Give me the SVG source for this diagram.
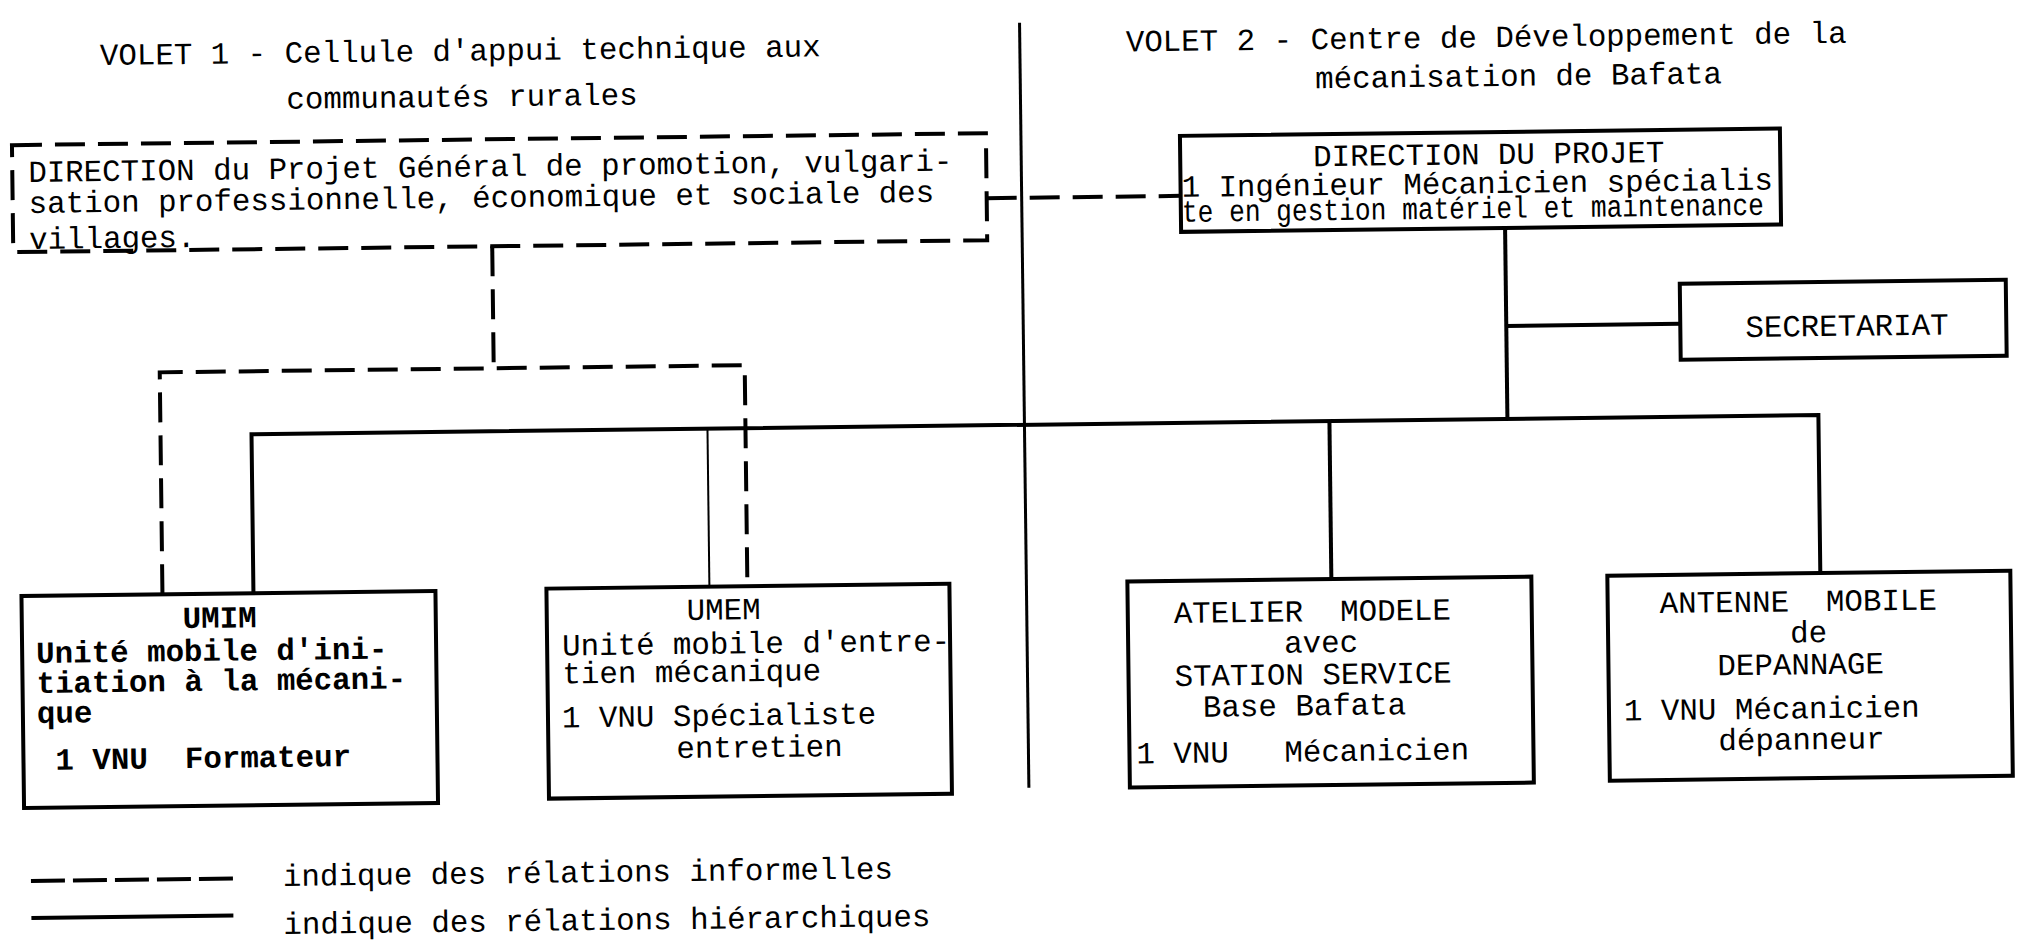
<svg xmlns="http://www.w3.org/2000/svg" width="2017" height="940" viewBox="0 0 2017 940">
<style>
.t{font-family:"Liberation Mono","DejaVu Sans Mono",monospace;font-size:30.8px;fill:#000;white-space:pre}
.b{font-weight:bold}
.box{fill:none;stroke:#000;stroke-width:4}
.ln{fill:none;stroke:#000;stroke-width:4}
.thin{fill:none;stroke:#000;stroke-width:2}
.dash{fill:none;stroke:#000;stroke-width:4;stroke-dasharray:30 13}
</style>
<rect x="0" y="0" width="2017" height="940" fill="#fff"/>
<g transform="rotate(-0.7 1008 470)">
  <g id="divider">
    <path class="ln" style="stroke-width:3" d="M1025 23 V788"/>
  </g>
  <g id="connectors">
    <path class="ln" d="M252 584 V425 H1819 V583"/>
    <path class="ln" d="M1330 425 V583"/>
    <path class="thin" d="M708 425 V583"/>
    <path class="ln" d="M1508 234 V425"/>
    <path class="ln" d="M1508 332 H1682"/>
    <path class="dash" d="M990 198 H1184"/>
    <path class="dash" d="M495 240 V362"/>
    <path class="dash" d="M161 584 V362 H746 V584"/>
  </g>
  <g id="volet1-title">
    <text class="t" x="105" y="54">VOLET 1 - Cellule d'appui technique aux</text>
    <text class="t" x="291" y="100">communautés rurales</text>
  </g>
  <g id="volet2-title">
    <text class="t" x="1131" y="53">VOLET 2 - Centre de Développement de la</text>
    <text class="t" x="1320" y="92">mécanisation de Bafata</text>
  </g>
  <g id="direction-generale">
    <rect class="dash" x="16" y="133" width="974" height="107"/>
    <text class="t" x="32" y="170">DIRECTION du Projet Général de promotion, vulgari-</text>
    <text class="t" x="32" y="201">sation professionnelle, économique et sociale des</text>
    <text class="t" x="32" y="237">villages.</text>
  </g>
  <g id="direction-projet">
    <rect class="box" x="1184" y="138" width="600" height="96"/>
    <text class="t" x="1317" y="170">DIRECTION DU PROJET</text>
    <text class="t" x="1185" y="199">1 Ingénieur Mécanicien spécialis</text>
    <text class="t" x="1185" y="224" textLength="582" lengthAdjust="spacingAndGlyphs">te en gestion matériel et maintenance</text>
  </g>
  <g id="secretariat">
    <rect class="box" x="1682" y="292" width="326" height="76"/>
    <text class="t" x="1747" y="346">SECRETARIAT</text>
  </g>
  <g id="umim">
    <rect class="box" x="20" y="584" width="414" height="212"/>
    <text class="t b" x="181" y="618">UMIM</text>
    <text class="t b" x="34" y="651">Unité mobile d'ini-</text>
    <text class="t b" x="34" y="681">tiation à la mécani-</text>
    <text class="t b" x="34" y="711">que</text>
    <text class="t b" x="52" y="758" xml:space="preserve">1 VNU  Formateur</text>
  </g>
  <g id="umem">
    <rect class="box" x="545" y="583" width="403" height="210"/>
    <text class="t" x="685" y="616">UMEM</text>
    <text class="t" x="560" y="650">Unité mobile d'entre-</text>
    <text class="t" x="560" y="678">tien mécanique</text>
    <text class="t" x="559" y="722">1 VNU Spécialiste</text>
    <text class="t" x="673" y="754">entretien</text>
  </g>
  <g id="atelier">
    <rect class="box" x="1126" y="583" width="404" height="206"/>
    <text class="t" x="1172" y="625" xml:space="preserve">ATELIER  MODELE</text>
    <text class="t" x="1282" y="656">avec</text>
    <text class="t" x="1172" y="688">STATION SERVICE</text>
    <text class="t" x="1200" y="719">Base Bafata</text>
    <text class="t" x="1133" y="765" xml:space="preserve">1 VNU   Mécanicien</text>
  </g>
  <g id="antenne">
    <rect class="box" x="1606" y="583" width="403" height="205"/>
    <text class="t" x="1658" y="621" xml:space="preserve">ANTENNE  MOBILE</text>
    <text class="t" x="1788" y="652">de</text>
    <text class="t" x="1715" y="684">DEPANNAGE</text>
    <text class="t" x="1621" y="728">1 VNU Mécanicien</text>
    <text class="t" x="1715" y="759">dépanneur</text>
  </g>
  <g id="legend">
    <path class="ln" style="stroke-dasharray:34 8" d="M26 869 H228"/>
    <path class="ln" d="M26 906 H228"/>
    <text class="t" x="278" y="877">indique des rélations informelles</text>
    <text class="t" x="278" y="925">indique des rélations hiérarchiques</text>
  </g>
</g>
</svg>
